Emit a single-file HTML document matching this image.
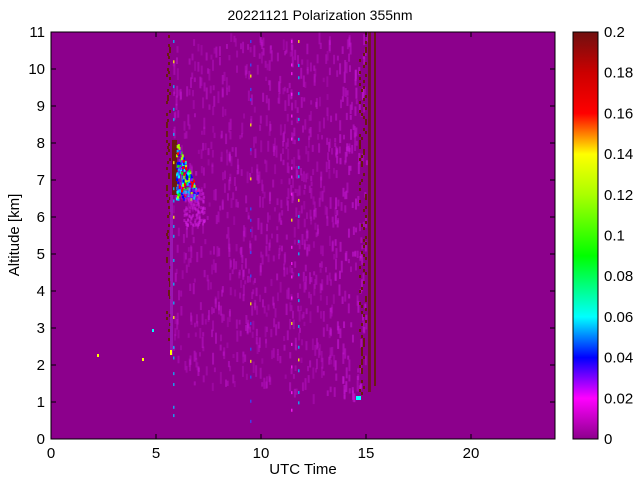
<!DOCTYPE html>
<html><head><meta charset="utf-8"><style>
body{margin:0;background:#fff;width:640px;height:480px;overflow:hidden}
svg text{font-family:"Liberation Sans",sans-serif;fill:#000}
</style></head><body>
<svg id="s" width="640" height="480" xmlns="http://www.w3.org/2000/svg">
<defs>
<linearGradient id="cb" x1="0" y1="1" x2="0" y2="0">
<stop offset="0" stop-color="#8c008c"/>
<stop offset="0.1" stop-color="#ff00ff"/>
<stop offset="0.2" stop-color="#0000ff"/>
<stop offset="0.3" stop-color="#00ffff"/>
<stop offset="0.45" stop-color="#00ff00"/>
<stop offset="0.6" stop-color="#aaff00"/>
<stop offset="0.7" stop-color="#ffff00"/>
<stop offset="0.8" stop-color="#ff0000"/>
<stop offset="0.9" stop-color="#cc0000"/>
<stop offset="1" stop-color="#701010"/>
</linearGradient>
</defs>
<rect x="51" y="32" width="504" height="407" fill="#8c008c"/>
<g id="tex"></g>
<rect x="51" y="32" width="504" height="407" fill="none" stroke="#000" stroke-width="1"/>
<g id="ticks" stroke="#000" stroke-width="1"></g>
<text x="320" y="20" font-size="14" text-anchor="middle">20221121 Polarization 355nm</text>
<text x="303" y="474" font-size="15" text-anchor="middle">UTC Time</text>
<text transform="translate(19,235) rotate(-90)" font-size="15" text-anchor="middle">Altitude [km]</text>
<rect x="573" y="32" width="25" height="407" fill="url(#cb)" stroke="#000"/>
<g id="lab" font-size="15"></g>
</svg>
<script>
var NS="http://www.w3.org/2000/svg";
function el(p,t,a,txt){var e=document.createElementNS(NS,t);for(var k in a)e.setAttribute(k,a[k]);if(txt!==undefined)e.textContent=txt;p.appendChild(e);return e;}
var tex=document.getElementById('tex'),tk=document.getElementById('ticks'),lab=document.getElementById('lab');
function X(h){return 51+h*21;} function Y(k){return 439-k*37;}
var seed=7;function r(){seed=(seed*16807)%2147483647;return seed/2147483647;}
// faint speckle
for(var i=0;i<1000;i++){var h=5.8+r()*9.2,k=1.2+r()*9.8;
var lim=h>11.5?1.0+(h-11.5)*0.02:1.5; if(k<lim)continue;
var op=0.25+0.25*r(); if(h>13.5) op+=0.15;
el(tex,'rect',{x:X(h),y:Y(k),width:2,height:4+r()*8,fill:'#c418d4',opacity:op});}
// brown speckled bands
for(var y=32;y<439;y+=3){
 if(y<340&&r()<0.6) el(tex,'rect',{x:166+Math.floor(r()*4),y:y,width:2,height:3,fill:'#6a1a10'});
 if(y<395&&r()<0.75) el(tex,'rect',{x:359+Math.floor(r()*4)*2,y:y,width:2,height:3,fill:'#6a1a10'});
}
el(tex,'rect',{x:172,y:140,width:5,height:55,fill:'#6a1a10'});
el(tex,'rect',{x:368,y:32,width:3,height:360,fill:'#6a1a10',opacity:0.8});
el(tex,'rect',{x:374,y:32,width:2,height:354,fill:'#6a1a10'});
el(tex,'rect',{x:170,y:195,width:3,height:160,fill:'#a020c0',opacity:0.7});
// aerosol blob
var cols=['#0000ff','#0000ff','#3040ff','#00ffff','#00c0ff','#00ff00','#aaff00','#ff0000','#a000ff'];
for(var i=0;i<420;i++){var h=5.95+r()*1.0,k=6.5+r()*1.6;if(h-5.95>(8.1-k)*0.75)continue;
el(tex,'rect',{x:X(h),y:Y(k),width:2,height:3,fill:cols[Math.floor(r()*cols.length)]});}
for(var i=0;i<120;i++){var h=6.3+r()*1.0,k=5.8+r()*1.0;el(tex,'rect',{x:X(h),y:Y(k),width:2,height:3,fill:'#d020e0',opacity:0.5});}
// vertical dotted lines
[[173,'#00c0ff'],[250,'#3050ff'],[291,'#ff20ff'],[298,'#00c0ff']].forEach(function(c){
for(var y=40;y<420;y+=8+r()*22){el(tex,'rect',{x:c[0],y:y,width:1.5,height:3,fill:r()<0.15?'#ffff00':c[1],opacity:0.8});}});
el(tex,'rect',{x:356,y:396,width:5,height:4,fill:'#00ffff'});
el(tex,'rect',{x:170,y:350,width:2,height:5,fill:'#ffff00'});
el(tex,'rect',{x:142,y:358,width:2,height:3,fill:'#ffff00'});
el(tex,'rect',{x:97,y:354,width:2,height:3,fill:'#ffff00'});
el(tex,'rect',{x:152,y:329,width:2,height:3,fill:'#00ffff'});
// ticks & labels
for(var h=0;h<=20;h+=5){var x=X(h);el(tk,'line',{x1:x,y1:439,x2:x,y2:434});el(tk,'line',{x1:x,y1:32,x2:x,y2:37});el(lab,'text',{x:x,y:458,'text-anchor':'middle'},h);}
for(var k=0;k<=11;k++){var y=Y(k);el(tk,'line',{x1:51,y1:y,x2:56,y2:y});el(tk,'line',{x1:555,y1:y,x2:550,y2:y});el(lab,'text',{x:45,y:y+5,'text-anchor':'end'},k);}
var cv=['0','0.02','0.04','0.06','0.08','0.1','0.12','0.14','0.16','0.18','0.2'];
for(var i=0;i<=10;i++){var y=439-i*40.7;el(tk,'line',{x1:598,y1:y,x2:594,y2:y});el(tk,'line',{x1:573,y1:y,x2:577,y2:y});el(lab,'text',{x:604,y:y+5},cv[i]);}
</script>
</body></html>
